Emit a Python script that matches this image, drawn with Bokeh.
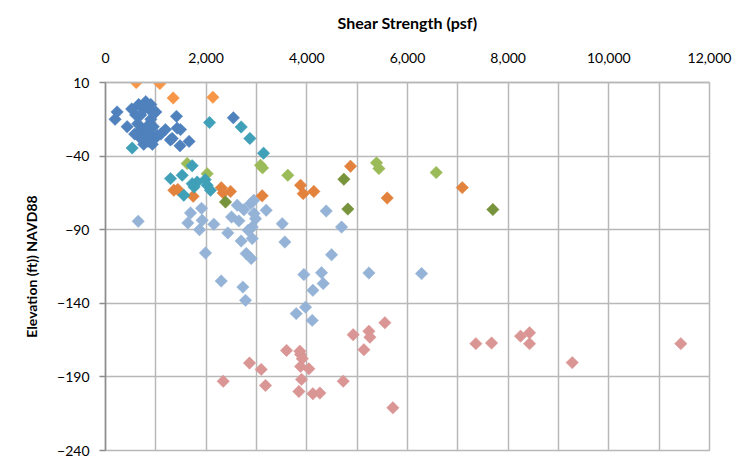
import math
from bokeh.plotting import figure
from bokeh.models import Range1d, FixedTicker, NumeralTickFormatter
from bokeh.embed import file_html
from bokeh.resources import INLINE

# ---- data (shear strength psf, elevation ft) ----
blue_x = [230, 190, 430, 580, 660, 700, 760, 800, 860, 900, 640, 720, 820, 880, 950, 980, 760, 930, 1030, 1190,
          1410, 1490, 1290, 1480, 1660, 2540, 600, 780, 1000, 850, 700, 1100, 520, 900, 1325, 1424]
blue_y = [-10, -15, -20, -25, -5, -12, -8, -3, -8, -15, -18, -22, -20, -25, -20, -28, -32, -32, -26, -22,
          -13, -22, -29, -33, -30, -14, -12, -27, -10, -30, -28, -25, -8, -5, -28, -21]

teal_x = [530, 2067, 2696, 2868, 3140, 1722, 1292, 1524, 1722, 1821, 2020, 2086, 1556, 1760, 1980]
teal_y = [-34.5, -17.2, -20.2, -28, -38, -46.5, -55.3, -53, -58.7, -57.6, -59.8, -63.2, -66.6, -61, -56]

ltorange_x = [610, 1080, 1345, 2133]
ltorange_y = [10, 9.3, -0.5, 0]

orange_x = [1358, 1437, 1742, 2300, 2338, 2484, 3113, 3875, 3928, 4139, 4868, 5597, 7088]
orange_y = [-63.2, -62.7, -67.3, -61.5, -65, -64, -67, -59.8, -65.5, -64, -46.9, -68.5, -61.4]

ltgreen_x = [1623, 2020, 3080, 3120, 3622, 5385, 5432, 6570]
ltgreen_y = [-45, -52, -46.2, -48, -53, -44.6, -48.5, -51.2]

dkgreen_x = [2384, 4736, 4815, 7696]
dkgreen_y = [-71.2, -55.7, -76, -76.3]

lavender_x = [650, 1908, 1689, 1636, 1921, 1868, 2152, 2617, 2749, 2881, 2947, 2504, 2650, 2981, 2915, 2430,
              2696, 2915, 3193, 3511, 3563, 1987, 2796, 2895, 4385, 4690, 4491, 2299, 2729, 2782, 3941, 4292,
              4325, 4120, 5233, 6279, 3974, 3789, 4107, 2835, 2950]
lavender_y = [-84.3, -75.5, -78.6, -85.4, -83.6, -90, -86.3, -73.4, -76.4, -72.3, -70, -81.4, -84, -82.5, -88.2, -92.2,
              -97.7, -96, -76.8, -85.9, -98.4, -105.8, -106.2, -109.6, -77.3, -88.2, -107, -124.9, -129, -138, -120.5, -119.2,
              -126.6, -131.2, -119.4, -119.8, -142.6, -147, -151.6, -90.4, -79]

pink_x = [2339, 2861, 3094, 3179, 3597, 3861, 3875, 3909, 3875, 4040, 3895, 3842, 4120, 4259, 4723, 4921,
          5233, 5253, 5134, 5550, 5709, 7358, 7670, 8246, 8425, 8425, 9273, 11430]
pink_y = [-193, -180.6, -184.9, -195.8, -172, -172.5, -174.7, -177.6, -182.9, -184.5, -191.7, -199.9, -201.4, -201, -192.9, -161.3,
          -159, -163, -171.5, -153.2, -211, -167.4, -167, -162.3, -160, -167.4, -180.3, -167.4]

x_ticks = [0, 2000, 4000, 6000, 8000, 10000, 12000]
x_grid = [0, 1000, 2000, 3000, 4000, 5000, 6000, 7000, 8000, 9000, 10000, 11000, 12000]
y_ticks = [10, -40, -90, -140, -190, -240]

series = [
    (pink_x, pink_y, "#D99694"),
    (lavender_x, lavender_y, "#95B3D7"),
    (orange_x, orange_y, "#E2823D"),
    (dkgreen_x, dkgreen_y, "#77933C"),
    (ltgreen_x, ltgreen_y, "#9BBB59"),
    (teal_x, teal_y, "#3FA0B8"),
    (blue_x, blue_y, "#4F81BD"),
    (ltorange_x, ltorange_y, "#F79646"),
]

FONT = "Lato"
GRID = "#B8B8B8"

p = figure(width=732, height=460, output_backend="svg", toolbar_location=None,
           x_range=Range1d(0, 12000), y_range=Range1d(-240, 10),
           x_axis_location="above",
           min_border_left=105, min_border_top=82, min_border_right=23, min_border_bottom=10)

for xs, ys, c in series:
    p.scatter(x=xs, y=ys, marker="square", size=8.8, angle=math.pi / 4,
              fill_color=c, line_color=c, line_width=0.5)

p.xaxis.ticker = FixedTicker(ticks=x_ticks)
p.xaxis.formatter = NumeralTickFormatter(format="0,0")
p.yaxis.ticker = FixedTicker(ticks=y_ticks)
p.xgrid.ticker = FixedTicker(ticks=x_grid)
p.ygrid.ticker = FixedTicker(ticks=y_ticks)
p.xgrid.grid_line_color = GRID
p.ygrid.grid_line_color = GRID
p.xgrid.grid_line_width = 1.5
p.ygrid.grid_line_width = 1.5
p.outline_line_color = GRID
p.outline_line_width = 1.5

p.xaxis.axis_label = "Shear Strength (psf)"
p.yaxis.axis_label = "Elevation (ft)) NAVD88"
for ax in (p.xaxis[0], p.yaxis[0]):
    ax.axis_label_text_font = FONT
    ax.axis_label_text_font_style = "bold"
    ax.axis_label_text_color = "black"
    ax.major_label_text_font = FONT
    ax.major_label_text_font_size = "14px"
    ax.major_label_text_color = "black"
    ax.minor_tick_line_color = None

p.xaxis.axis_label_text_font_size = "16px"
p.yaxis.axis_label_text_font_size = "14px"
p.xaxis.axis_line_color = GRID
p.xaxis.axis_line_width = 1.5
p.xaxis.major_tick_line_color = None
p.xaxis.major_label_standoff = 14
p.xaxis.axis_label_standoff = 18

p.yaxis.axis_line_color = "#8C8C8C"
p.yaxis.axis_line_width = 1.5
p.yaxis.major_tick_line_color = "#8C8C8C"
p.yaxis.major_tick_line_width = 1.5
p.yaxis.major_tick_in = 0
p.yaxis.major_tick_out = 6
p.yaxis.major_label_standoff = 10
p.yaxis.axis_label_standoff = 14

p.background_fill_color = "white"
p.border_fill_color = "white"

open("out.html", "w").write(file_html(p, INLINE))
